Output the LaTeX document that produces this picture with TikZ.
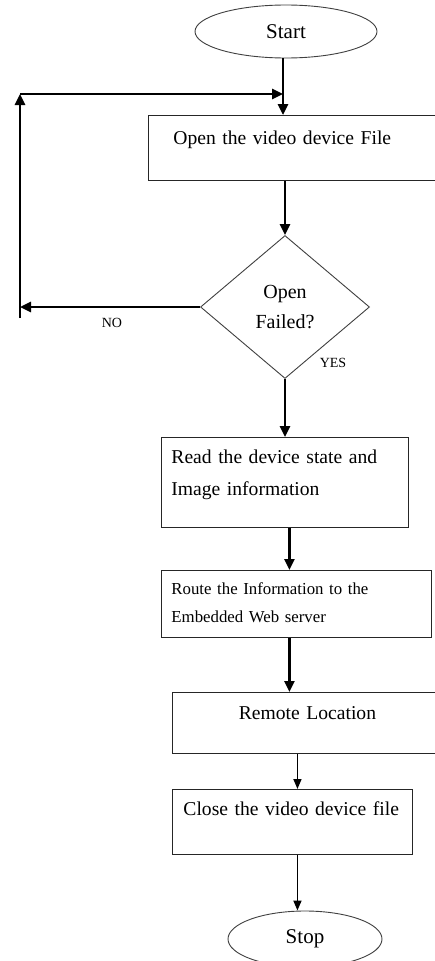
\documentclass[tikz,border=0pt]{standalone}
\usepackage{fontspec}
\setmainfont{Liberation Serif}
\usetikzlibrary{shapes.geometric,arrows.meta}
\tikzset{
  boxnode/.style={draw=black!85, line width=0.9pt, rectangle, inner ysep=0pt, anchor=north west, align=left},
  termnode/.style={draw=black!75, line width=0.9pt, ellipse, inner sep=0pt, font=\fontsize{21}{24}\selectfont},
  decnode/.style={draw=black!75, line width=0.9pt, diamond, inner sep=0pt, align=center, font=\fontsize{20}{30}\selectfont},
  thickarr/.style={line width=2.6pt, -{Triangle[length=11pt,width=10pt]}},
  thinarr/.style={line width=1.6pt, -{Triangle[length=10pt,width=8pt]}},
  lbl/.style={font=\fontsize{14}{16}\selectfont, inner sep=0pt}
}
\begin{document}
\begin{tikzpicture}[x=1pt,y=-1pt]
\useasboundingbox (0,0) rectangle (435,961);
\clip (0,0) rectangle (435,961);
\fill[white] (0,0) rectangle (435,961);

\node[termnode, minimum width=182pt, minimum height=53pt] (start) at (286,31.5) {Start};

\node[boxnode, text width=242pt, inner xsep=25pt, text height=29pt, text depth=36pt,
      font=\fontsize{19.6}{24}\selectfont] (open) at (148,115) {\mbox{Open the video device File}};

\node[decnode, minimum width=169pt, minimum height=143pt] (dec) at (285,307) {Open\\Failed?};

\node[boxnode, text width=227pt, inner xsep=10pt, text height=26pt, text depth=64pt,
      font=\fontsize{19.6}{32}\selectfont] (read) at (161,437) {\mbox{Read the device state and}\\\mbox{Image information}};

\node[boxnode, text width=250pt, inner xsep=10pt, text height=24pt, text depth=43pt,
      font=\fontsize{16.8}{28}\selectfont] (route) at (161,570) {\mbox{Route the Information to the}\\\mbox{Embedded Web server}};

\node[boxnode, text width=270pt, inner xsep=0pt, text height=27pt, text depth=34pt, align=center,
      font=\fontsize{19.6}{24}\selectfont] (remote) at (172,692) {\mbox{Remote Location}};

\node[boxnode, text width=218pt, inner xsep=11pt, text height=26pt, text depth=39pt,
      font=\fontsize{19.6}{24}\selectfont] (close) at (172,789) {\mbox{Close the video device file}};

\node[termnode, minimum width=154pt, minimum height=56pt] (stop) at (305,939) {Stop};

\node[lbl] (no) at (112,323) {NO};
\node[lbl] (yes) at (333,363) {YES};

% connectors
\coordinate (p1) at ([xshift=-3pt]start.south);
\draw[thickarr] (p1) -- (p1 |- open.north);
\draw[thickarr] (dec.north |- open.south) -- (dec.north);
\draw[thickarr] (dec.south) -- (dec.south |- read.north);
\coordinate (p4) at ([xshift=4.5pt]read.south);
\draw[thickarr] (p4) -- (p4 |- route.north);
\coordinate (p5) at ([xshift=-7pt]route.south);
\draw[thickarr] (p5) -- (p5 |- remote.north);
\coordinate (p6) at ([xshift=-10pt]remote.south);
\draw[thinarr] (p6) -- (p6 |- close.north);
\coordinate (p7) at ([xshift=5pt]close.south);
\draw[thinarr] (p7) -- (p7 |- stop.north);

% loop back
\coordinate (lb) at (20,318);
\coordinate (lt) at (20,94);
\draw[thickarr] (dec.west) -- (dec.west -| lt);
\draw[thickarr] (lb) -- (lt);
\draw[thickarr] (lt) -- (lt -| p1);
\end{tikzpicture}
\end{document}
